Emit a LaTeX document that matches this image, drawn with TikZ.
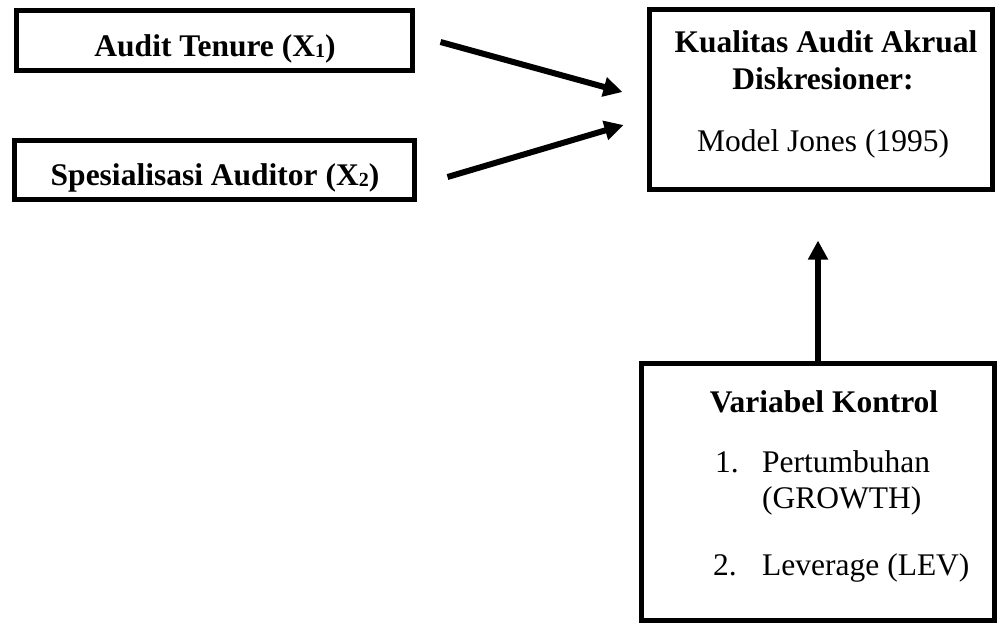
\documentclass[tikz,border=0pt]{standalone}
\usepackage{fontspec}
\setmainfont{Liberation Serif}
\usetikzlibrary{arrows.meta,calc}
\newcommand{\smallsub}[1]{{\fontsize{20}{20}\selectfont\raisebox{-1.5pt}{#1}}}
\begin{document}
\begin{tikzpicture}[x=1pt,y=-1pt,
  box/.style={draw, line width=5pt, inner sep=0pt, rectangle},
  txt/.style={inner sep=0pt, anchor=base, font=\fontsize{31.5}{38}\selectfont},
  txtb/.style={txt, font=\fontsize{31.5}{38}\selectfont\bfseries},
  txtl/.style={txt, anchor=base west},
  arr/.style={line width=6pt, -{Triangle[length=19pt,width=19pt]}}]
\useasboundingbox (0,0) rectangle (1001,625);
% boxes
\node[box, minimum width=396pt, minimum height=60pt] (b1) at (214.5,40.5) {};
\node[box, minimum width=400pt, minimum height=59pt] (b2) at (214.5,170) {};
\node[box, minimum width=343pt, minimum height=180pt] (rb) at (821,99.5) {};
\node[box, minimum width=353pt, minimum height=257pt] (bb) at (818,492) {};
% texts
\node[txtb] (t1) at (215,56) {Audit Tenure (X\smallsub{1})};
\node[txtb] (t2) at (215,185) {Spesialisasi Auditor (X\smallsub{2})};
\node[txtb] (r1) at (826,52) {Kualitas Audit Akrual};
\node[txtb] (r2) at (823,89) {Diskresioner:};
\node[txt] (r3) at (823,151) {Model Jones (1995)};
\node[txtb] (k0) at (824,412) {Variabel Kontrol};
\node[txtl] (k1n) at (715,472) {1.};
\node[txtl] (k1) at (762,472) {Pertumbuhan};
\node[txtl] (k1b) at (762,508) {(GROWTH)};
\node[txtl] (k2n) at (713,575) {2.};
\node[txtl] (k2) at (762,575) {Leverage (LEV)};
% arrows
\draw[arr] ($(b1.east)+(25.5,1.5)$) -- ($(rb.west)+(-24.5,-7.5)$);
\draw[arr] ($(b2.east)+(30.5,7)$) -- ($(rb.west)+(-23.5,25.5)$);
\draw[arr] (bb.north) -- ($(bb.north)+(0,-120.5)$);
\end{tikzpicture}
\end{document}
